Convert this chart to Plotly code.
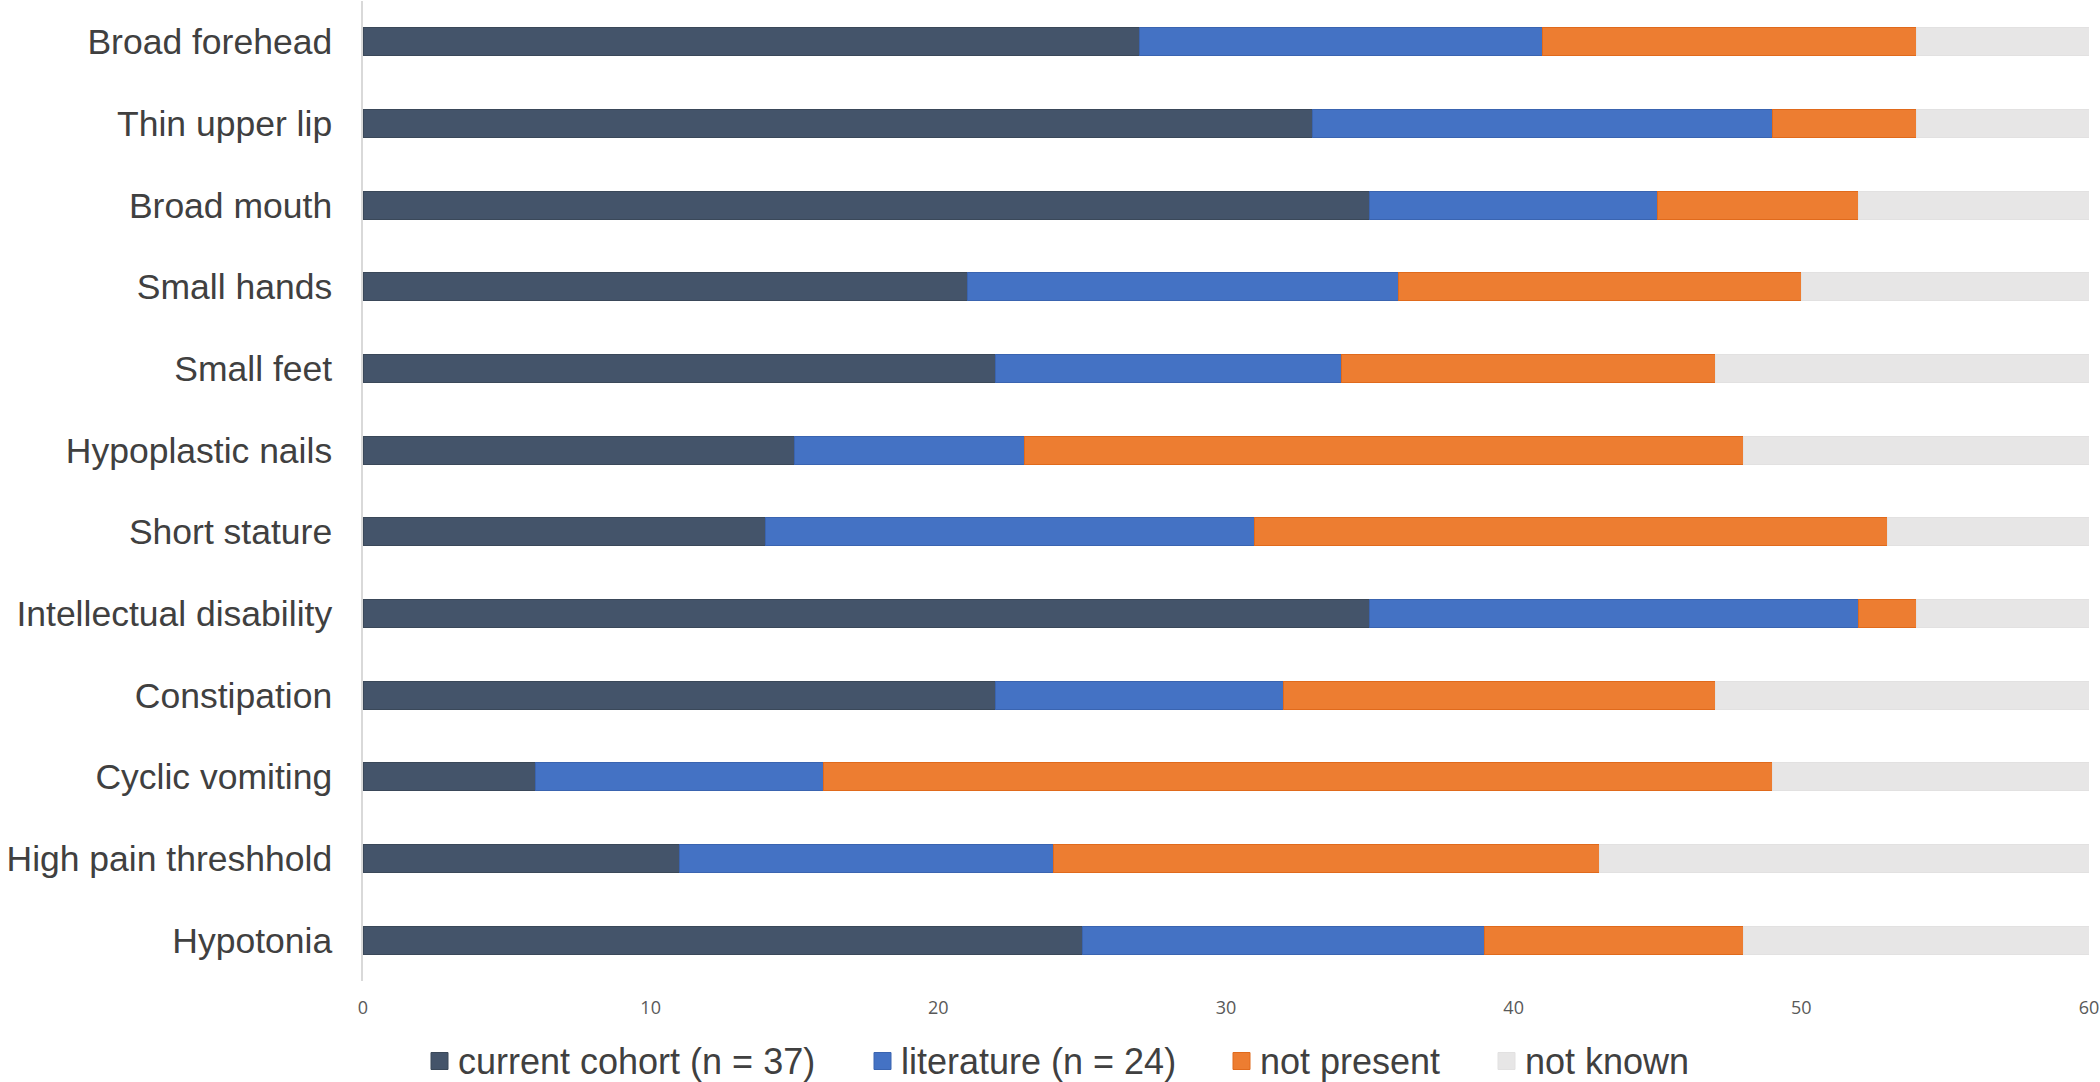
import plotly.graph_objects as go

categories = ["Broad forehead", "Thin upper lip", "Broad mouth", "Small hands", "Small feet",
              "Hypoplastic nails", "Short stature", "Intellectual disability", "Constipation",
              "Cyclic vomiting", "High pain threshhold", "Hypotonia"]
current_cohort = [27, 33, 35, 21, 22, 15, 14, 35, 22, 6, 11, 25]
literature = [14, 16, 10, 15, 12, 8, 17, 17, 10, 10, 13, 14]
not_present = [13, 5, 7, 14, 13, 25, 22, 2, 15, 33, 19, 9]
not_known = [6, 6, 8, 10, 13, 12, 7, 6, 13, 11, 17, 12]
x_ticks = [0, 10, 20, 30, 40, 50, 60]

series_names = ["current cohort (n = 37)", "literature (n = 24)", "not present", "not known"]
series_values = [current_cohort, literature, not_present, not_known]
colors = ["#44546A", "#4472C4", "#ED7D31", "#E7E6E6"]
edges = ["#3A4859", "#3A64B0", "#E06A1C", "#E2E1E1"]

W, H = 2100, 1082
L, R, T, B = 363, 11, 1, 101
PW, PH = W - L - R, H - T - B

fig = go.Figure()
for name, vals, col, edge in zip(series_names, series_values, colors, edges):
    fig.add_trace(go.Bar(
        y=categories, x=vals, name=name, orientation="h", showlegend=False,
        marker=dict(color=col, line=dict(color=edge, width=1)),
    ))

# manual legend (Excel-like layout)
legend_sq_left = [431, 874, 1233, 1498]
legend_y_px = 1061
sq = 17
shapes, annotations = [], []
for i, (name, col, edge) in enumerate(zip(series_names, colors, edges)):
    x0 = legend_sq_left[i]
    shapes.append(dict(type="rect", xref="paper", yref="paper",
                       x0=(x0 - L) / PW, x1=(x0 + sq - L) / PW,
                       y0=(H - B - (legend_y_px + sq / 2)) / PH, y1=(H - B - (legend_y_px - sq / 2)) / PH,
                       fillcolor=col, line=dict(color=edge, width=1)))
    annotations.append(dict(text=name, xref="paper", yref="paper",
                            x=(x0 + sq + 8 - L) / PW, y=(H - B - legend_y_px) / PH,
                            xanchor="left", yanchor="middle", showarrow=False,
                            font=dict(size=36, color="#404040", family="Liberation Sans, Arial, sans-serif")))

fig.update_layout(
    barmode="stack",
    bargap=0.657,
    width=W, height=H,
    margin=dict(l=L, r=R, t=T, b=B, autoexpand=False),
    paper_bgcolor="white", plot_bgcolor="white",
    font=dict(family="Liberation Sans, Arial, sans-serif", color="#404040"),
    showlegend=False,
    shapes=shapes,
    annotations=annotations,
    xaxis=dict(range=[0, 60], tickvals=x_ticks, showgrid=False, zeroline=False, showline=False,
               ticks="", ticklabelstandoff=14,
               tickfont=dict(size=18, color="#595959", family="Open Sans, Liberation Sans, sans-serif")),
    yaxis=dict(autorange="reversed", showgrid=False, showline=True, linecolor="#D9D9D9",
               linewidth=1.5, ticks="", ticklabelstandoff=22,
               tickfont=dict(size=35.5, color="#404040")),
)

fig.write_html("out.html", config={"displayModeBar": False},
               post_script="document.body.style.margin='0';document.body.style.overflow='hidden';")
